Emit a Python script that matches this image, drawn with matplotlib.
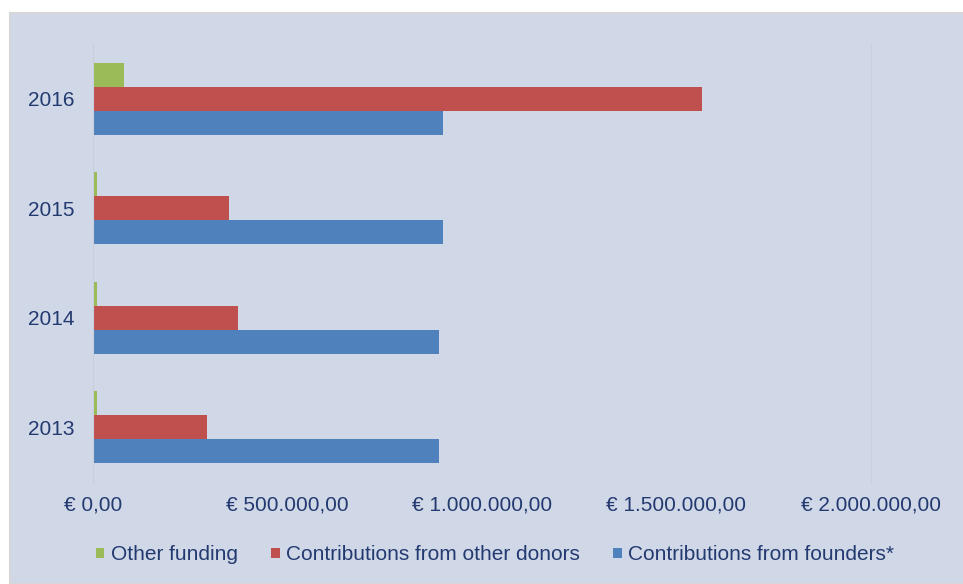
import matplotlib.pyplot as plt
from matplotlib.patches import Patch, Rectangle
from matplotlib.ticker import FuncFormatter
import numpy as np

plt.rcParams['font.family'] = ['Liberation Sans', 'DejaVu Sans']

years = ['2013', '2014', '2015', '2016']
other_funding = [10000, 10000, 10000, 80000]
other_donors = [293000, 373000, 350000, 1566000]
founders = [889000, 889000, 900000, 900000]
labels = ['Other funding', 'Contributions from other donors', 'Contributions from founders*']
colors = ['#9BBB59', '#C0504D', '#4F81BD']

bg = '#D0D8E8'
txt = '#233A70'

fig = plt.figure(figsize=(9.63, 5.84), dpi=100)
fig.patch.set_facecolor('white')
# chart area frame (white margin top/left like the screenshot)
fig.patches.append(Rectangle((10 / 963, 0), 1, 1 - 13 / 584, transform=fig.transFigure,
                             facecolor=bg, edgecolor='#D6D6D6', linewidth=1.5, zorder=-5))

ax = fig.add_axes([93 / 963, 1 - 482 / 584, (871 - 93) / 963, (482 - 44) / 584])
ax.set_facecolor('none')
ax.set_zorder(2)

y = np.arange(len(years))
h = 0.22
ax.barh(y + h, other_funding, height=h, color=colors[0], label=labels[0])
ax.barh(y, other_donors, height=h, color=colors[1], label=labels[1])
ax.barh(y - h, founders, height=h, color=colors[2], label=labels[2])

ax.set_ylim(-0.5, 3.5)
ax.set_xlim(0, 2000000)
ax.set_yticks(y)
ax.set_yticklabels(years)
ax.set_xticks([0, 500000, 1000000, 1500000, 2000000])


def euro(v, pos):
    s = f'{v:,.2f}'.replace(',', 'X').replace('.', ',').replace('X', '.')
    return '€ ' + s


ax.xaxis.set_major_formatter(FuncFormatter(euro))
ax.tick_params(axis='both', length=0, labelsize=15, colors=txt)
ax.tick_params(axis='y', pad=13)
ax.tick_params(axis='x', pad=10)

for s in ['top', 'bottom']:
    ax.spines[s].set_visible(False)
for s in ['left', 'right']:
    ax.spines[s].set_color('#C8CEDB')
    ax.spines[s].set_linewidth(0.8)

handles = [Patch(facecolor=c, edgecolor='none') for c in colors]
leg = fig.legend(handles, labels, loc='center', bbox_to_anchor=(495 / 963, 1 - 555 / 584),
                 ncol=3, frameon=False, fontsize=15, handlelength=0.42, handleheight=0.42,
                 handletextpad=0.3, columnspacing=1.6)
leg.set_zorder(3)
for t in leg.get_texts():
    t.set_color(txt)

fig.savefig('out.png', dpi=100, facecolor=fig.get_facecolor())
